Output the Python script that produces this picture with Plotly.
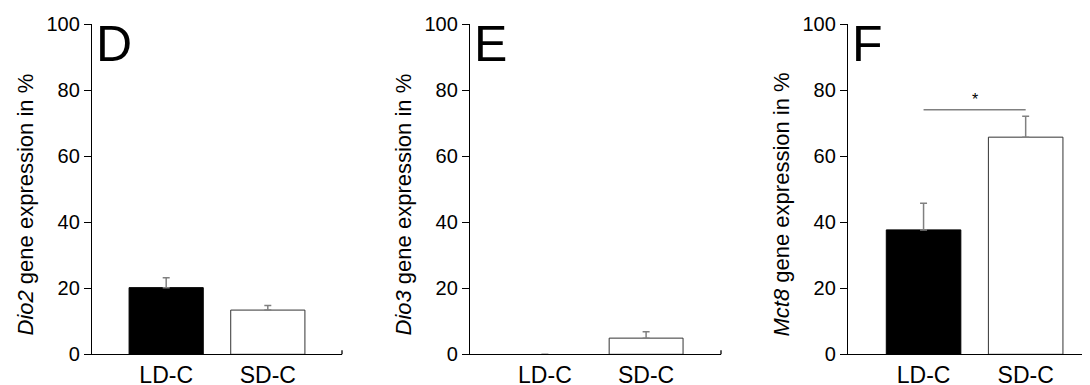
import plotly.graph_objects as go

categories = ["LD-C", "SD-C"]
cat_pos = [0, 1]
dio2 = [20.2, 13.4]
dio2_err = [3.0, 1.4]
dio3 = [0.0, 4.9]
dio3_err = [None, 1.9]
mct8 = [37.7, 65.8]
mct8_err = [8.1, 6.3]
sig_y = 74.1
star_y = 77.3
panel_letters = ["D", "E", "F"]
gene_names = ["Dio2", "Dio3", "Mct8"]
y_ticks = [0, 20, 40, 60, 80, 100]

# page body has an 8px margin, so the figure starts at (8, 8) on screen
OFF = 8
W, H = 1090 - OFF, 385 - OFF
FONT = "Liberation Sans, Arial, sans-serif"


def fx(sx):
    return (sx - OFF) / W


def fy(sy):
    return (H - (sy - OFF)) / H


panels = [
    dict(vals=dio2, err=dio2_err, left=92, right=342, xr=[-0.73, 1.73]),
    dict(vals=dio3, err=dio3_err, left=470, right=721, xr=[-0.74, 1.74]),
    dict(vals=mct8, err=mct8_err, left=848, right=1090, xr=[-0.74, 1.63]),
]

ydom = [fy(354.3), fy(24.3)]

fig = go.Figure()
layout = dict(
    width=W, height=H, margin=dict(l=0, r=0, t=0, b=0, autoexpand=False),
    paper_bgcolor="white", plot_bgcolor="white", showlegend=False,
    font=dict(family=FONT, color="black"),
)
annotations = []
shapes = []

for i, p in enumerate(panels):
    xa = "x" if i == 0 else f"x{i+1}"
    ya = "y" if i == 0 else f"y{i+1}"
    xkey = "xaxis" if i == 0 else f"xaxis{i+1}"
    ykey = "yaxis" if i == 0 else f"yaxis{i+1}"
    fig.add_trace(go.Bar(
        x=cat_pos, y=p["vals"], width=0.73, xaxis=xa, yaxis=ya,
        marker=dict(color=["black", "white"],
                    line=dict(color=["black", "#333333"],
                              width=[0 if v == 0 else 1 for v in p["vals"]])),
        error_y=dict(type="data", symmetric=False, array=p["err"],
                     arrayminus=[0, 0], color="#808080", thickness=1.5, width=3.5),
    ))
    layout[xkey] = dict(
        domain=[fx(p["left"]), min(1.0, fx(p["right"]))], range=p["xr"], anchor=ya,
        tickvals=cat_pos, ticktext=categories, ticks="",
        showline=True, linecolor="black", linewidth=1.3, automargin=False,
        showgrid=False, zeroline=False, tickfont=dict(size=23, family=FONT),
        fixedrange=True,
    )
    layout[ykey] = dict(
        domain=ydom, range=[0, 100], anchor=xa, tickvals=y_ticks,
        ticks="outside", ticklen=7, tickwidth=1.3, tickcolor="black",
        showline=True, linecolor="black", linewidth=1.3, showgrid=False,
        zeroline=False, tickfont=dict(size=20, family=FONT), automargin=False,
    )
    # axis end ticks
    shapes.append(dict(type="line", xref=f"{xa} domain", yref=ya,
                       x0=0, x1=0, y0=0, y1=-1.2, line=dict(color="black", width=1.3)))
    shapes.append(dict(type="line", xref=f"{xa} domain", yref=ya,
                       x0=1, x1=1, y0=-1.2, y1=1.2, line=dict(color="black", width=1.3)))
    # panel letter
    annotations.append(dict(
        text=panel_letters[i], xref="paper", yref="paper",
        x=fx(p["left"] + 2), y=fy(14), xanchor="left", yanchor="top",
        showarrow=False, font=dict(size=50, family=FONT, color="black"),
    ))
    # y title
    annotations.append(dict(
        text=f"<i>{gene_names[i]}</i> gene expression in %",
        xref="paper", yref="paper",
        x=fx(p["left"] - 67), y=fy(204.5), xanchor="center", yanchor="middle",
        textangle=-90, showarrow=False,
        font=dict(size=22, family=FONT, color="black"),
    ))

# significance bar on Mct8
fig.add_trace(go.Scatter(x=cat_pos, y=[sig_y, sig_y], mode="lines",
                         line=dict(color="#808080", width=1.5),
                         xaxis="x3", yaxis="y3", hoverinfo="skip"))
annotations.append(dict(text="*", x=0.5, y=star_y, xref="x3", yref="y3",
                        showarrow=False, font=dict(size=16, family=FONT, color="black")))

layout["annotations"] = annotations
layout["shapes"] = shapes
fig.update_layout(**layout)
fig.write_html("out.html")
